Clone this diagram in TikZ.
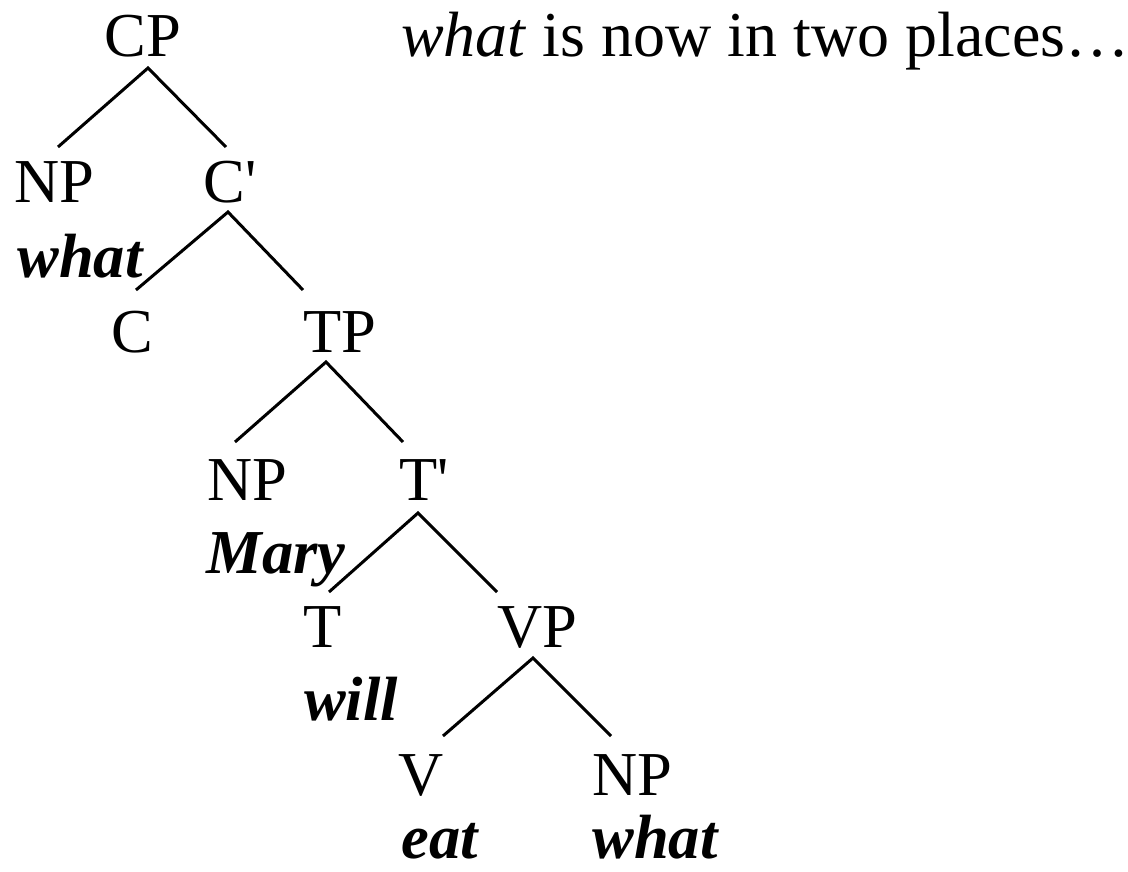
\documentclass[tikz,border=0pt]{standalone}
\usepackage{fontspec}
\setmainfont{Liberation Serif}[Ligatures=TeXOff]
\usetikzlibrary{calc}
\begin{document}
\begin{tikzpicture}[x=1pt,y=-1pt,
  lab/.style={inner sep=0pt,anchor=base,font=\fontsize{62.5}{70}\selectfont},
  capt/.style={inner sep=0pt,anchor=base west,font=\fontsize{64}{70}\selectfont},
  word/.style={inner sep=0pt,anchor=base,font=\fontsize{62.5}{70}\selectfont\bfseries\itshape},
  branch/.style={line width=3pt}]
\useasboundingbox (0,0) rectangle (1128,872);
% labels
\node[lab] (CP) at (143,57) {CP};
\node[capt] (cap) at (401,57) {\textit{what} is now in two places…};
\node[lab] (NPa) at (54,203) {NP};
\node[lab] (Cbar) at (230,203) {C'};
\node[word] (whata) at (80,277) {what};
\node[lab] (C) at (132,352) {C};
\node[lab] (TP) at (340,352) {TP};
\node[lab] (NPb) at (247,500) {NP};
\node[lab] (Tbar) at (424,500) {T'};
\node[word] (mary) at (276,573) {Mary};
\node[lab] (T) at (323,647) {T};
\node[lab] (VP) at (537,647) {VP};
\node[word] (will) at (351,720) {will};
\node[lab] (V) at (421,795) {V};
\node[lab] (NPc) at (632,795) {NP};
\node[word] (eat) at (440,858) {eat};
\node[word] (whatb) at (655,858) {what};
% branches
\draw[branch] ($(NPa.base)+(4,-56)$) -- ($(CP.base)+(5,11)$) -- ($(Cbar.base)+(-4,-56)$);
\draw[branch] ($(C.base)+(4,-62)$) -- ($(Cbar.base)+(-2,9)$) -- ($(TP.base)+(-37,-62)$);
\draw[branch] ($(NPb.base)+(-12,-58)$) -- ($(TP.base)+(-14,10)$) -- ($(Tbar.base)+(-21,-58)$);
\draw[branch] ($(T.base)+(6,-55)$) -- ($(Tbar.base)+(-6,13)$) -- ($(VP.base)+(-40,-55)$);
\draw[branch] ($(V.base)+(22,-59)$) -- ($(VP.base)+(-4,11)$) -- ($(NPc.base)+(-21,-59)$);
\end{tikzpicture}
\end{document}
